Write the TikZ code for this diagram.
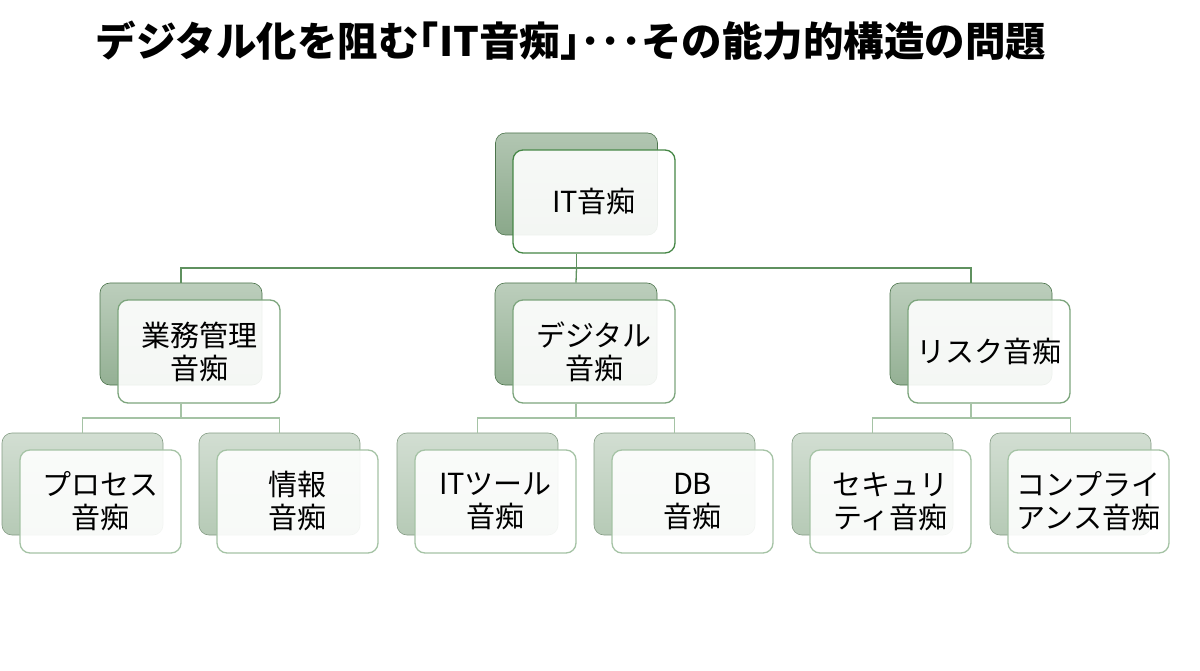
\documentclass[tikz,border=0pt]{standalone}
\usepackage{fontspec}
\newfontfamily\jp{Noto Sans CJK JP}
\definecolor{lineA}{RGB}{95,145,95}
\definecolor{lineB}{RGB}{165,195,165}
\definecolor{bordA}{RGB}{70,135,70}
\definecolor{bordB}{RGB}{125,165,125}
\definecolor{bordC}{RGB}{165,195,165}
\tikzset{
  backbox/.style={rounded corners=10pt, minimum width=162pt, minimum height=102pt, inner sep=0pt, draw=#1!80!black, line width=0.6pt},
  frontbox/.style={rounded corners=10pt, minimum width=162pt, minimum height=103pt, inner sep=0pt, draw=#1, line width=1.3pt, fill=white, fill opacity=0.9, text opacity=1, align=center, font=\jp\fontsize{29}{33}\selectfont},
  shA/.style={top color={rgb,255:red,178;green,198;blue,178}, bottom color={rgb,255:red,138;green,168;blue,138}},
  shB/.style={top color={rgb,255:red,188;green,206;blue,188}, bottom color={rgb,255:red,148;green,176;blue,148}},
  shC/.style={top color={rgb,255:red,210;green,222;blue,210}, bottom color={rgb,255:red,182;green,202;blue,182}},
  conA/.style={draw=lineA, line width=1.3pt},
  conB/.style={draw=lineB, line width=1.3pt},
}
\begin{document}
\begin{tikzpicture}[x=1pt,y=-1pt]
\useasboundingbox (0,0) rectangle (1200,671);
\fill[white] (0,0) rectangle (1200,671);
% title
\node[font=\jp\bfseries\fontsize{40.5}{46}\selectfont, anchor=center] (title) at (571,41) {デジタル化を阻む｢IT音痴｣･･･その能力的構造の問題};
\coordinate (busA) at (576.5,268);
\coordinate (busL) at (181,418);
\coordinate (busM) at (576,418);
\coordinate (busR) at (971,418);
% top
\node[backbox=lineA, shA] (topb) at (576.5,184) {};
\node[frontbox=bordA] (top) at (594,201.5) {IT音痴};
% middle back boxes
\node[backbox=lineA, shB] (m1b) at (181,334) {};
\node[backbox=lineA, shB] (m2b) at (576,334) {};
\node[backbox=lineA, shB] (m3b) at (971,334) {};
% connectors top -> middle
\draw[conA] (top.south -| topb.center) -- (busA);
\draw[conA] (m1b.north) |- (busA) -| (m3b.north);
\draw[conA] (busA) -- (m2b.north);
% middle front boxes
\node[frontbox=bordB] (m1) at (199,351.5) {業務管理\\音痴};
\node[frontbox=bordB] (m2) at (594,351.5) {デジタル\\音痴};
\node[frontbox=bordB] (m3) at (989,351.5) {リスク音痴};
% bottom level back boxes
\node[backbox=lineB, shC, minimum width=161pt] (b1b) at (82.5,484) {};
\node[backbox=lineB, shC, minimum width=161pt] (b2b) at (279.5,484) {};
\node[backbox=lineB, shC, minimum width=161pt] (b3b) at (477.5,484) {};
\node[backbox=lineB, shC, minimum width=161pt] (b4b) at (674.5,484) {};
\node[backbox=lineB, shC, minimum width=161pt] (b5b) at (872.5,484) {};
\node[backbox=lineB, shC, minimum width=161pt] (b6b) at (1070.5,484) {};
% connectors middle -> bottom
\draw[conB] (m1.south -| m1b.center) -- (busL);
\draw[conB] (b1b.north) |- (busL) -| (b2b.north);
\draw[conB] (m2.south -| m2b.center) -- (busM);
\draw[conB] (b3b.north) |- (busM) -| (b4b.north);
\draw[conB] (m3.south -| m3b.center) -- (busR);
\draw[conB] (b5b.north) |- (busR) -| (b6b.north);
% bottom front boxes
\node[frontbox=bordC, minimum width=161pt] (b1) at (100.5,501.5) {プロセス\\音痴};
\node[frontbox=bordC, minimum width=161pt] (b2) at (297.5,501.5) {情報\\音痴};
\node[frontbox=bordC, minimum width=161pt] (b3) at (495.5,501.5) {ITツール\\音痴};
\node[frontbox=bordC, minimum width=161pt] (b4) at (692.5,501.5) {DB\\音痴};
\node[frontbox=bordC, minimum width=161pt] (b5) at (890.5,501.5) {セキュリ\\ティ音痴};
\node[frontbox=bordC, minimum width=161pt] (b6) at (1088.5,501.5) {コンプライ\\アンス音痴};
\end{tikzpicture}
\end{document}
